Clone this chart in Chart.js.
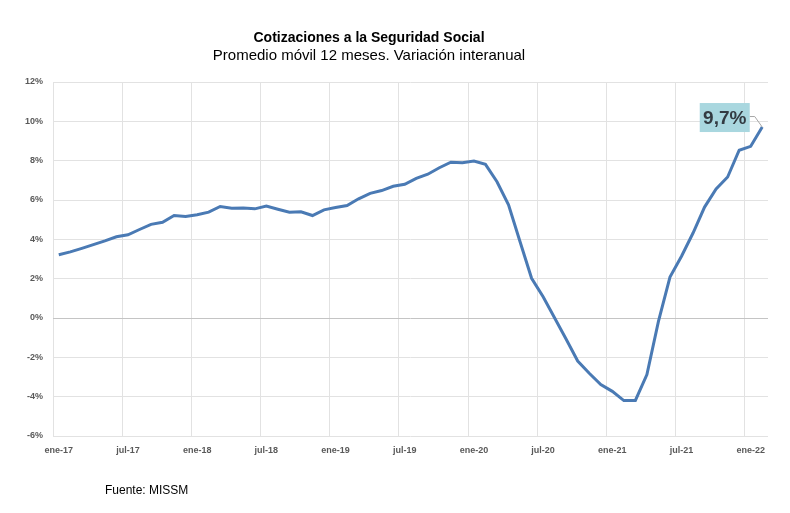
<!DOCTYPE html>
<html>
<head>
<meta charset="utf-8">
<script src="https://cdn.jsdelivr.net/npm/chart.js@4/dist/chart.umd.min.js"></script>
<style>
html,body{margin:0;padding:0;background:#fff;}
canvas{display:block;}
</style>
</head>
<body>
<canvas id="c" width="790" height="513"></canvas>
<script>
const TITLE = "Cotizaciones a la Seguridad Social";
const SUBTITLE = "Promedio móvil 12 meses. Variación interanual";
const SOURCE = "Fuente: MISSM";

const monthNames = ["ene","feb","mar","abr","may","jun","jul","ago","sep","oct","nov","dic"];
const years = ["17","18","19","20","21","22"];
const categories = [];
for (const y of years) for (const m of monthNames) categories.push(m + "-" + y);
categories.length = 62; // ene-17 .. feb-22

const values = [
  3.22, 3.36, 3.54, 3.73, 3.92, 4.13, 4.23, 4.50, 4.76, 4.87, 5.21, 5.16,
  5.25, 5.38, 5.67, 5.58, 5.59, 5.55, 5.69, 5.53, 5.38, 5.40, 5.21, 5.50,
  5.62, 5.72, 6.06, 6.34, 6.48, 6.70, 6.80, 7.10, 7.31, 7.64, 7.92, 7.90,
  7.98, 7.81, 6.93, 5.75, 3.88, 2.02, 1.08, 0.00, -1.08, -2.19, -2.81, -3.38,
  -3.73, -4.20, -4.19, -2.88, -0.17, 2.08, 3.14, 4.32, 5.64, 6.56, 7.17, 8.53,
  8.73, 9.71
];

const yMin = -6, yMax = 12, yStep = 2;
const labelEvery = 6;
const FONT = "'Liberation Sans', Arial, sans-serif";

const textPlugin = {
  id: 'texts',
  afterDraw(chart) {
    const ctx = chart.ctx;
    ctx.save();
    ctx.fillStyle = '#000';
    ctx.textAlign = 'center';
    ctx.textBaseline = 'middle';
    ctx.font = "bold 14px " + FONT;
    ctx.fillText(TITLE, 369, 38);
    ctx.font = "15px " + FONT;
    ctx.fillText(SUBTITLE, 369, 56);
    ctx.textAlign = 'left';
    ctx.font = "12px " + FONT;
    ctx.fillText(SOURCE, 105, 491);

    // last value callout
    const meta = chart.getDatasetMeta(0);
    const pt = meta.data[meta.data.length - 1];
    const last = values[values.length - 1];
    const txt = last.toFixed(1).replace('.', ',') + '%';
    const bw = 50, bh = 29;
    const bx = pt.x - 12.5 - bw;
    const by = pt.y - 24;
    ctx.strokeStyle = '#a6a6a6';
    ctx.lineWidth = 1;
    ctx.beginPath();
    ctx.moveTo(bx + bw, by + 13.5);
    ctx.lineTo(bx + bw + 5, by + 13.5);
    ctx.lineTo(pt.x, pt.y);
    ctx.stroke();
    ctx.fillStyle = '#a9d7df';
    ctx.fillRect(bx, by, bw, bh);
    ctx.fillStyle = '#333b42';
    ctx.font = "bold 19px " + FONT;
    ctx.textAlign = 'center';
    ctx.fillText(txt, bx + bw / 2, by + bh / 2 + 1);
    ctx.restore();
  }
};

new Chart(document.getElementById('c'), {
  type: 'line',
  data: {
    labels: categories,
    datasets: [{
      data: values,
      borderColor: '#4a7ab4',
      borderWidth: 3,
      pointRadius: 0,
      pointHoverRadius: 0,
      tension: 0,
      fill: false
    }]
  },
  options: {
    responsive: false,
    animation: false,
    events: [],
    layout: { padding: { top: 82, left: 0, right: 22, bottom: 47 } },
    plugins: { legend: { display: false }, tooltip: { enabled: false }, title: { display: false } },
    scales: {
      x: {
        type: 'category',
        offset: true,
        afterFit(s) { s.height = 30; },
        border: { display: false },
        grid: {
          offset: true,
          drawTicks: false,
          lineWidth: 1,
          color: (c) => (c.index % labelEvery === 0 ? '#e2e2e2' : 'rgba(0,0,0,0)')
        },
        ticks: {
          autoSkip: false,
          maxRotation: 0,
          minRotation: 0,
          padding: 9,
          color: '#595959',
          font: { family: FONT, size: 9, weight: 'bold' },
          callback: function(v, i) { return i % labelEvery === 0 ? this.getLabelForValue(v) : ''; }
        }
      },
      y: {
        min: yMin,
        max: yMax,
        afterFit(s) { s.width = 53; },
        border: { display: false },
        grid: {
          drawTicks: false,
          lineWidth: 1,
          color: (c) => (c.tick && c.tick.value === 0 ? '#c4c4c4' : '#e2e2e2')
        },
        ticks: {
          stepSize: yStep,
          padding: 10,
          color: '#595959',
          font: { family: FONT, size: 9, weight: 'bold' },
          callback: (v) => v + '%'
        }
      }
    }
  },
  plugins: [textPlugin]
});
</script>
</body>
</html>
